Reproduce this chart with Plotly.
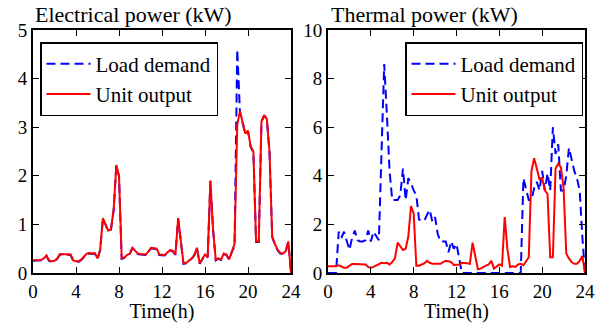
import plotly.graph_objects as go

# Time axis: 15-minute steps from 0 to 24 h
time_h = [i * 0.25 for i in range(97)]

elec_output = [
    0.26, 0.26, 0.26, 0.27, 0.30, 0.36, 0.26, 0.24, 0.25, 0.30,
    0.39, 0.39, 0.39, 0.39, 0.38, 0.26, 0.24, 0.24, 0.28, 0.34,
    0.40, 0.41, 0.40, 0.41, 0.30, 0.48, 1.13, 1.00, 0.87, 0.90,
    1.30, 2.22, 2.00, 0.30, 0.32, 0.37, 0.40, 0.52, 0.46, 0.40,
    0.39, 0.39, 0.38, 0.45, 0.52, 0.51, 0.50, 0.38, 0.37, 0.37,
    0.42, 0.47, 0.46, 0.38, 1.13, 0.70, 0.20, 0.21, 0.25, 0.30,
    0.37, 0.52, 0.20, 0.28, 0.38, 0.33, 1.90, 0.90, 0.27, 0.30,
    0.28, 0.40, 0.38, 0.28, 0.45, 0.60, 3.05, 3.33, 3.10, 2.87,
    2.93, 2.60, 2.50, 0.65, 0.65, 3.12, 3.25, 3.17, 2.50, 0.75,
    0.60, 0.48, 0.41, 0.40, 0.45, 0.65, 0.00,
]

elec_load = [
    0.25, 0.25, 0.25, 0.26, 0.29, 0.35, 0.25, 0.23, 0.24, 0.29,
    0.38, 0.38, 0.38, 0.38, 0.37, 0.25, 0.23, 0.23, 0.27, 0.33,
    0.39, 0.40, 0.39, 0.40, 0.29, 0.47, 1.12, 0.99, 0.86, 0.89,
    1.29, 2.21, 1.99, 0.29, 0.31, 0.36, 0.39, 0.51, 0.45, 0.39,
    0.38, 0.38, 0.37, 0.44, 0.51, 0.50, 0.49, 0.37, 0.36, 0.36,
    0.41, 0.46, 0.45, 0.37, 1.12, 0.69, 0.19, 0.20, 0.24, 0.29,
    0.36, 0.51, 0.19, 0.27, 0.37, 0.32, 1.89, 0.89, 0.26, 0.29,
    0.27, 0.39, 0.37, 0.27, 0.44, 0.55, 4.60, 3.32, 3.09, 2.86,
    2.92, 2.59, 2.49, 0.64, 0.64, 3.11, 3.24, 3.16, 2.49, 0.74,
    0.59, 0.47, 0.40, 0.39, 0.44, 0.64, 0.00,
]

therm_output = [
    0.28, 0.28, 0.28, 0.28, 0.32, 0.28, 0.22, 0.22, 0.28, 0.37,
    0.37, 0.37, 0.37, 0.37, 0.35, 0.25, 0.22, 0.25, 0.30, 0.35,
    0.42, 0.40, 0.42, 0.35, 0.45, 0.60, 1.25, 1.10, 0.95, 1.00,
    1.50, 2.75, 2.45, 0.30, 0.30, 0.35, 0.40, 0.50, 0.42, 0.38,
    0.38, 0.38, 0.38, 0.45, 0.50, 0.48, 0.45, 0.33, 0.33, 0.35,
    0.42, 0.42, 0.40, 0.38, 1.25, 0.70, 0.15, 0.18, 0.25, 0.30,
    0.35, 0.50, 0.18, 0.25, 0.35, 0.30, 2.30, 1.00, 0.25, 0.28,
    0.25, 0.35, 0.38, 0.32, 0.48, 0.65, 4.20, 4.72, 4.30, 3.85,
    3.90, 3.40, 3.25, 0.65, 0.65, 4.30, 4.50, 4.35, 3.50, 0.80,
    0.60, 0.45, 0.38, 0.38, 0.50, 0.70, 0.00,
]

therm_load = [
    0.00, 0.00, 0.00, 0.00, 1.70, 1.45, 1.70, 1.30, 0.95, 1.45,
    1.75, 1.35, 1.30, 1.30, 1.35, 1.75, 1.30, 1.70, 1.50, 1.35,
    5.00, 8.60, 6.50, 4.20, 3.00, 3.00, 3.00, 3.20, 4.30, 3.00,
    3.90, 3.70, 3.40, 3.20, 2.20, 2.15, 2.15, 2.40, 2.60, 2.10,
    2.30, 1.60, 1.30, 1.30, 1.30, 0.85, 1.30, 1.00, 1.20, 0.60,
    0.00, 0.00, 0.00, 0.00, 0.00, 0.00, 0.00, 0.00, 0.00, 0.00,
    0.00, 0.00, 0.00, 0.00, 0.00, 0.00, 0.00, 0.00, 0.00, 0.00,
    0.00, 0.00, 0.00, 3.90, 3.50, 3.00, 3.00, 3.50, 3.75, 3.40,
    4.20, 3.40, 4.10, 3.40, 6.00, 4.90, 5.30, 3.40, 3.40, 4.00,
    5.15, 4.60, 4.20, 3.90, 3.40, 1.50, 0.00,
]

x_ticks = [0, 4, 8, 12, 16, 20, 24]
left_y_ticks = [0, 1, 2, 3, 4, 5]
right_y_ticks = [0, 2, 4, 6, 8, 10]

W, H = 607, 323
ML, MR, MT, MB = 33, W - 585, 30, H - 273
PW, PH = W - ML - MR, H - MT - MB


def px(x):
    return (x - ML) / PW


def py(y):
    return (H - MB - y) / PH


FONT = "Liberation Serif"
BLUE = "rgb(0,0,255)"
RED = "rgb(255,0,0)"
DASH = "9px,5px"

fig = go.Figure()

fig.add_trace(go.Scatter(x=time_h, y=elec_load, mode="lines", name="Load demand",
                         line=dict(color=BLUE, width=2, dash=DASH),
                         xaxis="x", yaxis="y", legend="legend"))
fig.add_trace(go.Scatter(x=time_h, y=elec_output, mode="lines", name="Unit output",
                         line=dict(color=RED, width=2),
                         xaxis="x", yaxis="y", legend="legend"))
fig.add_trace(go.Scatter(x=time_h, y=therm_load, mode="lines", name="Load demand",
                         line=dict(color=BLUE, width=2, dash=DASH),
                         xaxis="x2", yaxis="y2", legend="legend2"))
fig.add_trace(go.Scatter(x=time_h, y=therm_output, mode="lines", name="Unit output",
                         line=dict(color=RED, width=2),
                         xaxis="x2", yaxis="y2", legend="legend2"))

axis_common = dict(showline=True, linecolor="black", linewidth=2, mirror="ticks",
                   ticks="inside", ticklen=6, tickwidth=1, tickcolor="black",
                   showgrid=False, zeroline=False, automargin=False,
                   tickfont=dict(family=FONT, size=19, color="black"))
xtitle = dict(text="Time(h)", standoff=3, font=dict(family=FONT, size=20))

legend_common = dict(xanchor="left", yanchor="top", bgcolor="white",
                     bordercolor="black", borderwidth=1.5, itemwidth=44,
                     font=dict(family=FONT, size=21), tracegroupgap=0)

fig.update_layout(
    width=W, height=H,
    margin=dict(l=ML, r=MR, t=MT, b=MB, autoexpand=False),
    paper_bgcolor="white", plot_bgcolor="white",
    font=dict(family=FONT, size=19, color="black"),
    xaxis=dict(domain=[0, px(291)], range=[0, 24], tickvals=x_ticks,
               anchor="y", title=xtitle, **axis_common),
    yaxis=dict(domain=[0, 1], range=[0, 5], tickvals=left_y_ticks, anchor="x",
               **axis_common),
    xaxis2=dict(domain=[px(328), 1], range=[0, 24], tickvals=x_ticks,
                anchor="y2", title=xtitle, **axis_common),
    yaxis2=dict(domain=[0, 1], range=[0, 10], tickvals=right_y_ticks, anchor="x2",
                **axis_common),
    legend=dict(x=px(40), y=py(42), **legend_common),
    legend2=dict(x=px(405), y=py(42), **legend_common),
    annotations=[
        dict(text="Electrical power (kW)", x=px(33), y=py(14), xref="paper", yref="paper",
             xanchor="left", yanchor="middle", showarrow=False,
             font=dict(family=FONT, size=22)),
        dict(text="Thermal power (kW)", x=px(329), y=py(14), xref="paper", yref="paper",
             xanchor="left", yanchor="middle", showarrow=False,
             font=dict(family=FONT, size=22)),
    ],
)

fig.write_html("out.html", config={"displayModeBar": False},
               post_script="document.body.style.margin='0px';document.body.style.overflow='hidden';")
